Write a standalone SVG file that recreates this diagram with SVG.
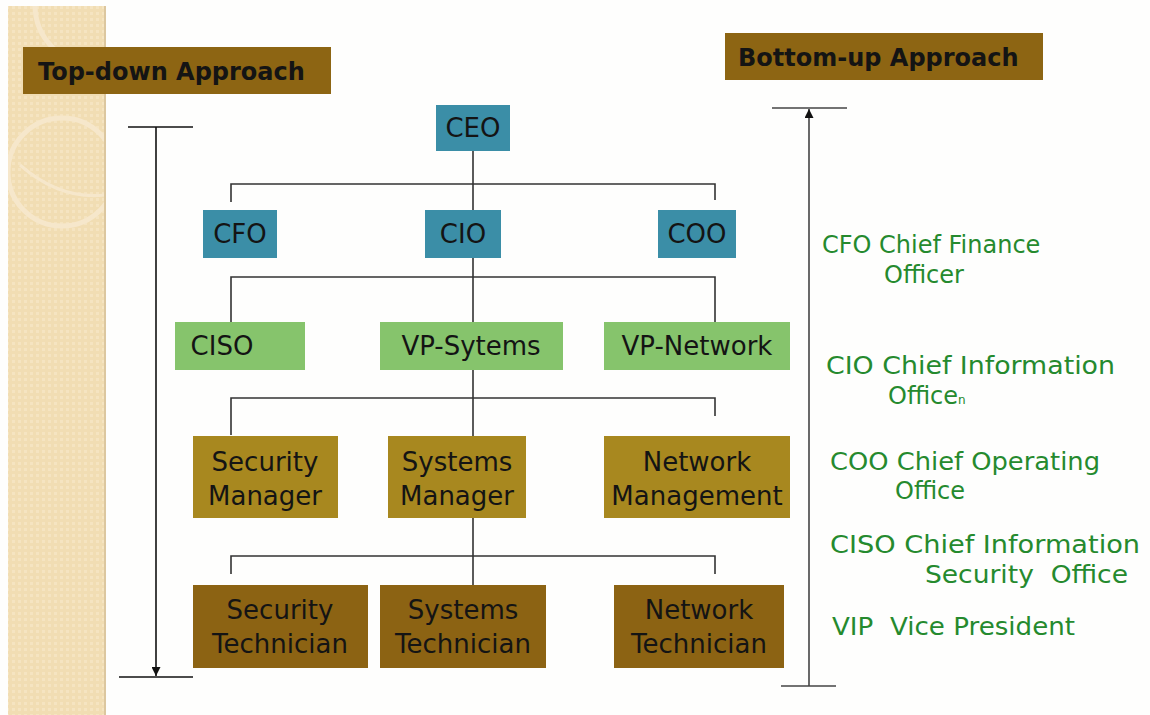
<svg xmlns="http://www.w3.org/2000/svg" width="1150" height="715" viewBox="0 0 1150 715">
<defs>
  <style>
    .node text { font-family: "DejaVu Sans", "Liberation Sans", sans-serif; font-size: 26px; fill: #141414; text-anchor: middle; }
    .blue { fill: #3B8EA7; }
    .green { fill: #86C46C; }
    .gold { fill: #A8881F; }
    .brown { fill: #8C6313; }
    .conn { stroke: #333; stroke-width: 1.6; fill: none; }
    .label rect { fill: #8D6513; }
    .label text { font-family: "DejaVu Sans", "Liberation Sans", sans-serif; font-weight: bold; font-size: 24px; fill: #141414; }
    .legend text { font-family: "DejaVu Sans", "Liberation Sans", sans-serif; font-size: 24px; fill: #258A2E; }
  </style>
  <marker id="arrow" viewBox="0 0 10 10" refX="10" refY="5" markerWidth="9" markerHeight="9" markerUnits="userSpaceOnUse" orient="auto">
    <path d="M0,0 L10,5 L0,10 z" fill="#111"/>
  </marker>
  <pattern id="dots" width="6" height="6" patternUnits="userSpaceOnUse">
    <rect width="6" height="6" fill="#F1DDB3"/>
    <rect width="3" height="3" fill="#F5E4C1"/>
  </pattern>
  <clipPath id="strip"><rect x="8" y="6" width="97" height="709"/></clipPath>
</defs>

<rect width="1150" height="715" fill="#FEFEFD"/>
<g id="background">
  <rect x="8" y="6" width="97" height="709" fill="url(#dots)"/>
  <g clip-path="url(#strip)" fill="none" stroke="#F6E7CB" stroke-width="5">
    <circle cx="62" cy="172" r="54"/>
    <circle cx="95" cy="5" r="60"/>
    <path d="M20,165 Q60,200 105,195" stroke-width="3"/>
  </g>
  <line x1="105" y1="6" x2="105" y2="715" stroke="#DCC79F" stroke-width="2"/>
</g>

<g id="label-top-down" class="label">
  <rect x="23" y="47" width="308" height="47"/>
  <text x="38" y="80">Top-down Approach</text>
</g>
<g id="label-bottom-up" class="label">
  <rect x="725" y="33" width="318" height="47"/>
  <text x="738" y="66">Bottom-up Approach</text>
</g>

<g id="connectors" class="conn">
  <path d="M473,150 V210 M231,202 V184 H715 V200"/>
  <path d="M473,258 V322 M231,322 V277 H715 V322"/>
  <path d="M473,370 V436 M231,435 V398 H715 V416"/>
  <path d="M473,518 V585 M231,574 V556 H715 V574"/>
</g>

<g id="top-down-arrow">
  <line x1="128" y1="127" x2="193" y2="127" stroke="#111" stroke-width="1.6"/>
  <line x1="119" y1="677" x2="193" y2="677" stroke="#111" stroke-width="1.6"/>
  <line x1="156" y1="127" x2="156" y2="676" stroke="#111" stroke-width="1.6" marker-end="url(#arrow)"/>
</g>
<g id="bottom-up-arrow">
  <line x1="772" y1="108" x2="847" y2="108" stroke="#444" stroke-width="1.6"/>
  <line x1="781" y1="686" x2="836" y2="686" stroke="#444" stroke-width="1.6"/>
  <line x1="809" y1="686" x2="809" y2="109" stroke="#444" stroke-width="1.6" marker-end="url(#arrow)"/>
</g>

<g id="ceo" class="node"><rect class="blue" x="436" y="105" width="74" height="46"/><text x="473" y="137">CEO</text></g>
<g id="cfo" class="node"><rect class="blue" x="203" y="210" width="74" height="48"/><text x="240" y="243">CFO</text></g>
<g id="cio" class="node"><rect class="blue" x="425" y="210" width="76" height="48"/><text x="463" y="243">CIO</text></g>
<g id="coo" class="node"><rect class="blue" x="658" y="210" width="78" height="48"/><text x="697" y="243">COO</text></g>

<g id="ciso" class="node"><rect class="green" x="175" y="322" width="130" height="48"/><text x="222" y="355">CISO</text></g>
<g id="vp-sytems" class="node"><rect class="green" x="380" y="322" width="183" height="48"/><text x="471" y="355">VP-Sytems</text></g>
<g id="vp-network" class="node"><rect class="green" x="604" y="322" width="186" height="48"/><text x="697" y="355">VP-Network</text></g>

<g id="security-manager" class="node"><rect class="gold" x="193" y="436" width="145" height="82"/><text x="265" y="471">Security</text><text x="265" y="505">Manager</text></g>
<g id="systems-manager" class="node"><rect class="gold" x="388" y="436" width="138" height="82"/><text x="457" y="471">Systems</text><text x="457" y="505">Manager</text></g>
<g id="network-management" class="node"><rect class="gold" x="604" y="436" width="186" height="82"/><text x="697" y="471">Network</text><text x="697" y="505">Management</text></g>

<g id="security-technician" class="node"><rect class="brown" x="193" y="585" width="175" height="83"/><text x="280" y="619">Security</text><text x="280" y="653">Technician</text></g>
<g id="systems-technician" class="node"><rect class="brown" x="380" y="585" width="166" height="83"/><text x="463" y="619">Systems</text><text x="463" y="653">Technician</text></g>
<g id="network-technician" class="node"><rect class="brown" x="614" y="585" width="170" height="83"/><text x="699" y="619">Network</text><text x="699" y="653">Technician</text></g>

<g id="legend" class="legend">
  <text x="822" y="253">CFO Chief Finance</text>
  <text x="884" y="283">Officer</text>
  <text x="826" y="374" textLength="289" lengthAdjust="spacingAndGlyphs">CIO Chief Information</text>
  <text x="888" y="404">Office<tspan font-size="12">n</tspan></text>
  <text x="830" y="470" textLength="270" lengthAdjust="spacingAndGlyphs">COO Chief Operating</text>
  <text x="895" y="499">Office</text>
  <text x="830" y="553" textLength="310" lengthAdjust="spacingAndGlyphs">CISO Chief Information</text>
  <text x="925" y="583" xml:space="preserve" textLength="203" lengthAdjust="spacingAndGlyphs">Security  Office</text>
  <text x="832" y="635" xml:space="preserve" textLength="243" lengthAdjust="spacingAndGlyphs">VIP  Vice President</text>
</g>
</svg>
